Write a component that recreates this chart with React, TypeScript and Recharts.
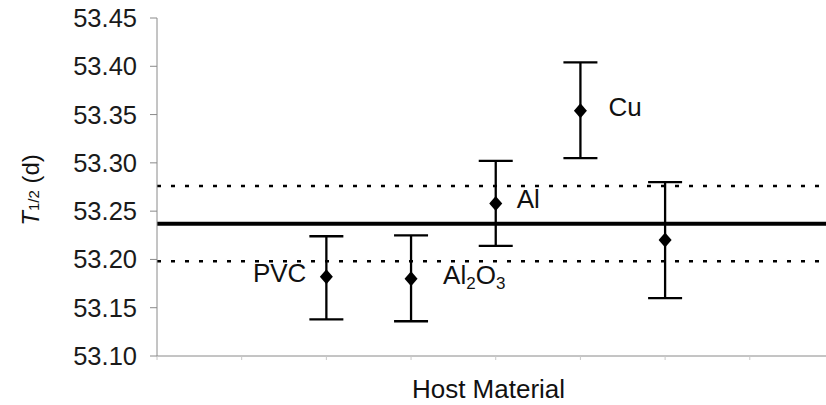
import { ScatterChart, Scatter, XAxis, YAxis, ReferenceLine, ErrorBar, Label } from "recharts";

// values
const hostMaterials = ["PVC", "Al2O3", "Al", "Cu", ""];
const hostPositions = [2, 3, 4, 5, 6];
const halfLives = [53.182, 53.18, 53.258, 53.354, 53.22];
const errorsLow = [0.044, 0.044, 0.044, 0.049, 0.06];
const errorsHigh = [0.042, 0.045, 0.044, 0.05, 0.06];

const meanHalfLife = 53.237;
const meanBandLow = 53.198;
const meanBandHigh = 53.276;

const yTicks = [53.1, 53.15, 53.2, 53.25, 53.3, 53.35, 53.4, 53.45];
const xTicks = [0, 1, 2, 3, 4, 5, 6, 7];

const data = hostMaterials.map((name, i) => ({
  name,
  x: hostPositions[i],
  y: halfLives[i],
  err: [errorsLow[i], errorsHigh[i]],
}));

const FONT = '"Liberation Sans", Arial, Helvetica, sans-serif';

// horizontal offset of each point label from its marker
const labelDx: Record<string, number> = { PVC: -20, Al2O3: 32, Al: 21, Cu: 28 };

function PointLabel({ name, cx, cy }: { name: string; cx: number; cy: number }) {
  if (!name) return null;
  const dx = labelDx[name] ?? 24;
  const anchor = dx < 0 ? "end" : "start";
  const common = { x: cx + dx, y: cy + 5, fontSize: 26, fontFamily: FONT, fill: "#111", textAnchor: anchor } as const;
  if (name === "Al2O3") {
    return (
      <text {...common}>
        <tspan>Al</tspan>
        <tspan fontSize={17} dy={5}>2</tspan>
        <tspan dy={-5}>O</tspan>
        <tspan fontSize={17} dy={5}>3</tspan>
      </text>
    );
  }
  return <text {...common}>{name}</text>;
}

function DiamondPoint(props: any) {
  const { cx, cy, payload } = props;
  if (cx == null || cy == null) return null;
  const w = 6.5;
  const h = 7.5;
  return (
    <g>
      <polygon points={`${cx},${cy - h} ${cx + w},${cy} ${cx},${cy + h} ${cx - w},${cy}`} fill="#000" />
      <PointLabel name={payload.name} cx={cx} cy={cy} />
    </g>
  );
}

function YAxisTitle(props: any) {
  const { viewBox } = props;
  const x = 30;
  const y = viewBox.y + viewBox.height / 2 + 3;
  return (
    <text
      x={x}
      y={y}
      transform={`rotate(-90, ${x}, ${y})`}
      textAnchor="middle"
      dominantBaseline="central"
      fontFamily={FONT}
      fontSize={24}
      fill="#111"
    >
      <tspan fontStyle="italic">T</tspan>
      <tspan fontSize={15} dy={3}>1/2</tspan>
      <tspan dy={-3}> (d)</tspan>
    </text>
  );
}

function XAxisTitle(props: any) {
  const { viewBox } = props;
  return (
    <text
      x={viewBox.x + viewBox.width / 2 - 3}
      y={viewBox.y + 42}
      textAnchor="middle"
      fontFamily={FONT}
      fontSize={26}
      fill="#111"
    >
      Host Material
    </text>
  );
}

export default function App() {
  return (
    <div style={{ position: "absolute", left: 0, top: 0, width: 826, height: 405, background: "#fff" }}>
      <ScatterChart width={826} height={405} margin={{ top: 18, right: 0, bottom: 0, left: 57 }}>
        <XAxis
          type="number"
          dataKey="x"
          domain={[0, 7.9]}
          ticks={xTicks}
          tickFormatter={() => ""}
          tickSize={4}
          height={49}
          stroke="#8a8a8a"
          tickLine={{ stroke: "#c8c8c8" }}
          allowDataOverflow
        >
          <Label content={<XAxisTitle />} />
        </XAxis>
        <YAxis
          type="number"
          dataKey="y"
          domain={[53.1, 53.45]}
          ticks={yTicks}
          tickFormatter={(v: number) => v.toFixed(2)}
          width={100}
          tickSize={7}
          tickMargin={13}
          stroke="#8a8a8a"
          tick={{ fill: "#1a1a1a", fontSize: 25.5, fontFamily: FONT }}
          allowDataOverflow
        >
          <Label content={<YAxisTitle />} />
        </YAxis>
        <ReferenceLine y={meanBandHigh} stroke="#000" strokeWidth={2.5} strokeDasharray="4 10" />
        <ReferenceLine y={meanBandLow} stroke="#000" strokeWidth={2.5} strokeDasharray="4 10" />
        <ReferenceLine y={meanHalfLife} stroke="#000" strokeWidth={4} />
        <Scatter data={data} shape={<DiamondPoint />} isAnimationActive={false}>
          <ErrorBar dataKey="err" direction="y" width={17} stroke="#000" strokeWidth={2.3} isAnimationActive={false} />
        </Scatter>
      </ScatterChart>
    </div>
  );
}
